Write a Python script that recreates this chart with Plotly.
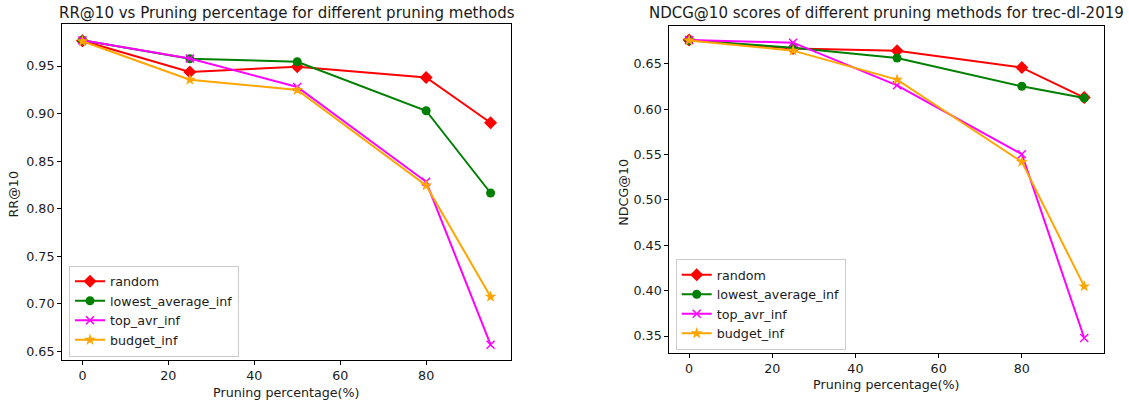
import plotly.graph_objects as go

pruning = [0, 25, 50, 80, 95]
methods = ["random", "lowest_average_inf", "top_avr_inf", "budget_inf"]
colors = ["red", "green", "magenta", "orange"]
symbols = ["diamond", "circle", "x-thin", "star"]
sizes = [10, 9, 8, 9]

rr10 = {
    "random": [0.9766, 0.9437, 0.9493, 0.9380, 0.8904],
    "lowest_average_inf": [0.9770, 0.9577, 0.9545, 0.9030, 0.8165],
    "top_avr_inf": [0.9770, 0.9580, 0.9280, 0.8283, 0.6570],
    "budget_inf": [0.9760, 0.9356, 0.9248, 0.8245, 0.7074],
}
ndcg10 = {
    "random": [0.6764, 0.6670, 0.6647, 0.6460, 0.6129],
    "lowest_average_inf": [0.6760, 0.6680, 0.6566, 0.6254, 0.6125],
    "top_avr_inf": [0.6765, 0.6735, 0.6265, 0.5505, 0.3478],
    "budget_inf": [0.6760, 0.6647, 0.6327, 0.5420, 0.4047],
}

left_title = "RR@10 vs Pruning percentage for different pruning methods"
right_title = "NDCG@10 scores of different pruning methods for trec-dl-2019"
xlabel = "Pruning percentage(%)"

W, H = 1129, 405
FONT = "DejaVu Sans"
TXT = "#1a1a1a"
FS = 12.7
TFS = 15

fig = go.Figure()
for i, m in enumerate(methods):
    marker = dict(symbol=symbols[i], size=sizes[i], color=colors[i])
    if symbols[i] == "x-thin":
        marker["line"] = dict(color=colors[i], width=1.5)
    fig.add_trace(go.Scatter(x=pruning, y=rr10[m], name=m, mode="lines+markers",
                             line=dict(color=colors[i], width=2), marker=marker,
                             xaxis="x", yaxis="y", legend="legend"))
for i, m in enumerate(methods):
    marker = dict(symbol=symbols[i], size=sizes[i], color=colors[i])
    if symbols[i] == "x-thin":
        marker["line"] = dict(color=colors[i], width=1.5)
    fig.add_trace(go.Scatter(x=pruning, y=ndcg10[m], name=m, mode="lines+markers",
                             line=dict(color=colors[i], width=2), marker=marker,
                             xaxis="x2", yaxis="y2", legend="legend2"))

axcommon = dict(showline=True, linecolor="black", linewidth=1, mirror=True,
                ticks="outside", ticklen=4, tickcolor="black", showgrid=False,
                zeroline=False, tickfont=dict(family=FONT, size=FS, color=TXT))


def ann(text, xp, yp, size=FS, angle=0):
    return dict(text=text, x=xp / W, y=1 - yp / H, xref="paper", yref="paper",
                xanchor="center", yanchor="middle", showarrow=False, textangle=angle,
                font=dict(family=FONT, size=size, color=TXT))


fig.update_layout(
    width=W, height=H, margin=dict(l=0, r=0, t=0, b=0),
    paper_bgcolor="white", plot_bgcolor="white",
    font=dict(family=FONT, size=FS, color=TXT),
    xaxis=dict(domain=[62 / W, 511 / W], range=[-4.75, 99.75],
               tickvals=[0, 20, 40, 60, 80], anchor="y", **axcommon),
    yaxis=dict(domain=[1 - 360 / H, 1 - 24 / H], range=[0.6409, 0.9942],
               tickvals=[0.65, 0.70, 0.75, 0.80, 0.85, 0.90, 0.95],
               tickformat=".2f", anchor="x", **axcommon),
    xaxis2=dict(domain=[669.3 / W, 1104 / W], range=[-4.75, 99.75],
                tickvals=[0, 20, 40, 60, 80], anchor="y2", **axcommon),
    yaxis2=dict(domain=[1 - 352.7 / H, 1 - 25.7 / H], range=[0.3316, 0.6922],
                tickvals=[0.35, 0.40, 0.45, 0.50, 0.55, 0.60, 0.65],
                tickformat=".2f", anchor="x2", **axcommon),
    legend=dict(x=69 / W, y=1 - 356.5 / H, xanchor="left", yanchor="bottom",
                bgcolor="rgba(255,255,255,0.8)", bordercolor="#cccccc", borderwidth=1,
                font=dict(family=FONT, size=FS, color=TXT)),
    legend2=dict(x=675.7 / W, y=1 - 350 / H, xanchor="left", yanchor="bottom",
                 bgcolor="rgba(255,255,255,0.8)", bordercolor="#cccccc", borderwidth=1,
                 font=dict(family=FONT, size=FS, color=TXT)),
    annotations=[
        ann(left_title, 286.5, 12.5, size=TFS),
        ann(right_title, 886.7, 12.5, size=TFS),
        ann("RR@10", 13.5, 195, angle=-90),
        ann("NDCG@10", 622.7, 192, angle=-90),
        ann(xlabel, 286.7, 392),
        ann(xlabel, 886.7, 384),
    ],
)

fig.write_html("out.html")
